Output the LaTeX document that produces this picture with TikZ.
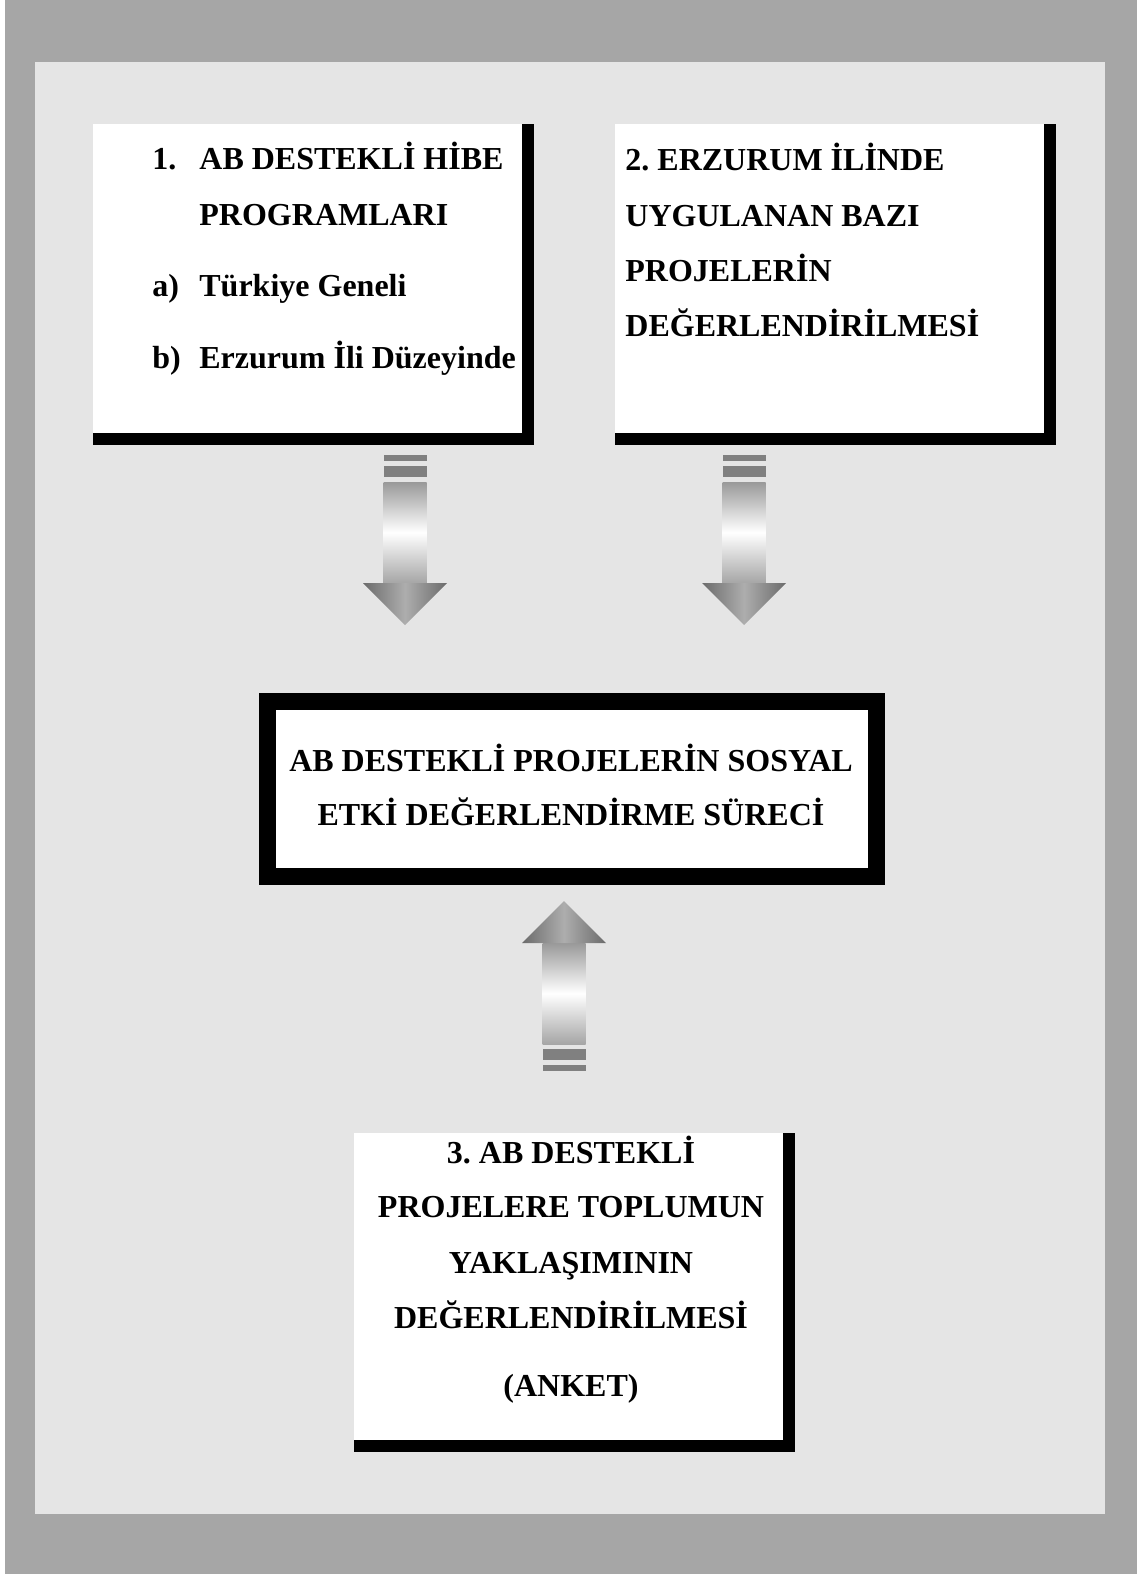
\documentclass[tikz,border=0pt]{standalone}
\usepackage{fontspec}
\setmainfont{Liberation Serif}
\frenchspacing
\usetikzlibrary{fit}
\tikzset{
  kutu/.style={fill=white, inner sep=0pt, fit={#1}},
  yazi/.style={inner sep=0pt, font=\fontsize{16}{19}\selectfont\bfseries},
  cubuk/.style={fill=black!50},
  blokok/.pic={
    \fill[cubuk] (-21.5,0) rectangle (21.5,6);
    \fill[cubuk] (-21.5,11) rectangle (21.5,22);
    \shade[top color=black!40, bottom color=black!35, middle color=white] (-21.5,27) rectangle (21.5,128);
    \shade[left color=black!58, right color=black!58, middle color=black!32] (-42,128) -- (42,128) -- (0,170) -- cycle;
  }
}
\begin{document}
\begin{tikzpicture}[x=0.5pt,y=-0.5pt]
    %renkler
    \colorlet{koyu}{black!35}
    \colorlet{acik}{black!10}
    \useasboundingbox (0,0) rectangle (1140,1574);

    % Arka plan
    \fill[koyu] (5,0) rectangle (1137,1574);
    \fill[acik] (35,62) rectangle (1105,1514);

    % Kutular
    \node[kutu={(93,124) (522,433)}] (k1) {};
    \fill (k1.north east) rectangle ([shift={(12,12)}]k1.south east);
    \fill (k1.south west) rectangle ([shift={(12,12)}]k1.south east);

    \node[kutu={(615,124) (1044,433)}] (k2) {};
    \fill (k2.north east) rectangle ([shift={(12,12)}]k2.south east);
    \fill (k2.south west) rectangle ([shift={(12,12)}]k2.south east);

    \node[kutu={(276,710) (868,868)}] (merkez) {};
    \draw[line width=8.25pt] ([shift={(-8.25,-8.25)}]merkez.north west) rectangle ([shift={(8.25,8.25)}]merkez.south east);

    \node[kutu={(354,1133) (783,1440)}] (k3) {};
    \fill (k3.north east) rectangle ([shift={(12,12)}]k3.south east);
    \fill (k3.south west) rectangle ([shift={(12,12)}]k3.south east);

    % Oklar
    \pic at (405,455) {blokok};
    \pic at (744,455) {blokok};
    \pic[yscale=-1] at (564,1071) {blokok};

    % Yazilar
    \foreach \y/\metin [count=\i] in {169/{AB DESTEKLİ HİBE},225/{PROGRAMLARI},296/{Türkiye Geneli},368/{Erzurum İli Düzeyinde}}
    \node[yazi,anchor=base west] (k1y\i) at (199,\y) {\metin};
    \foreach \y/\etiket [count=\i] in {169/{1.},296/{a)},368/{b)}}
    \node[yazi,anchor=base west] (k1e\i) at (152,\y) {\etiket};

    \foreach \y/\metin [count=\i] in {170/{2. ERZURUM İLİNDE},226/{UYGULANAN BAZI},281/{PROJELERİN},336/{DEĞERLENDİRİLMESİ}}
    \node[yazi,anchor=base west] (k2y\i) at (625,\y) {\metin};

    \foreach \y/\metin [count=\i] in {771/{AB DESTEKLİ PROJELERİN SOSYAL},825/{ETKİ DEĞERLENDİRME SÜRECİ}}
    \node[yazi,anchor=base] (my\i) at (571,\y) {\metin};

    \foreach \y/\metin [count=\i] in {1163/{3. AB DESTEKLİ},1217/{PROJELERE TOPLUMUN},1273/{YAKLAŞIMININ},1328/{DEĞERLENDİRİLMESİ},1396/{(ANKET)}}
    \node[yazi,anchor=base] (k3y\i) at (571,\y) {\metin};
\end{tikzpicture}
\end{document}
